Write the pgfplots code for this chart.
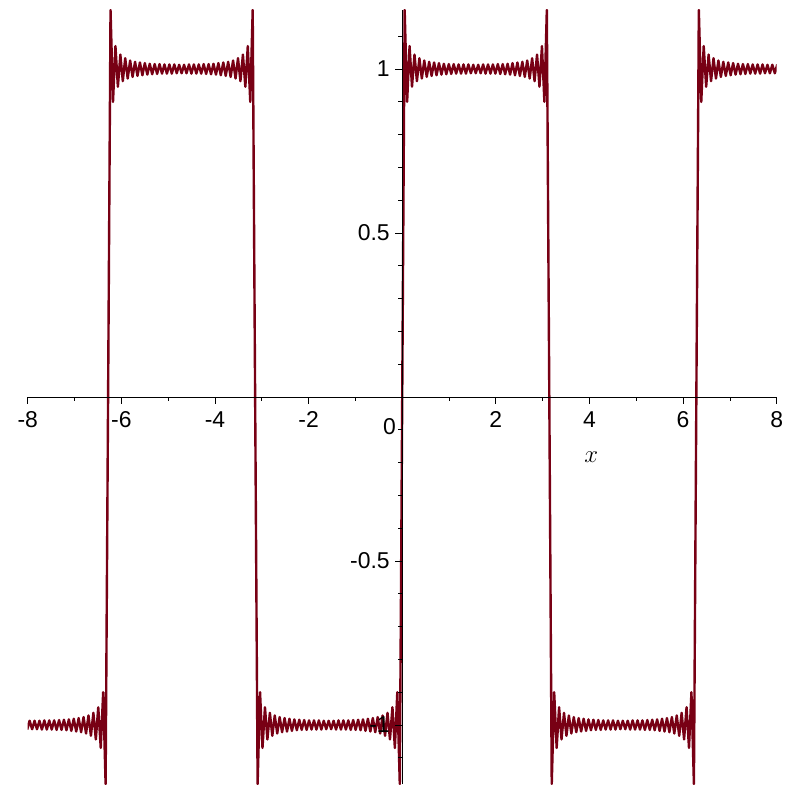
\documentclass[border=0pt]{standalone}
\usepackage{fontspec}
\setmainfont{Liberation Sans}
\usepackage{pgfplots}
\pgfplotsset{compat=1.18}
\definecolor{maplered}{RGB}{120,0,20}

\begin{document}
\begin{tikzpicture}
\begin{axis}[
    scale only axis,
    width=749bp, height=774bp,
    xmin=-8, xmax=8,
    ymin=-1.18, ymax=1.18,
    axis lines=middle,
    axis on top,
    axis line style={-, black, line width=0.8bp},
    tick align=outside,
    tick style={black, line width=0.8bp},
    major tick length=7bp,
    minor tick length=4bp,
    xtick={-8,-6,-4,-2,2,4,6,8},
    xticklabels={-8,-6,-4,-2,2,4,6,8},
    minor xtick={-7,-5,-3,-1,1,3,5,7},
    ytick={-1,-0.5,0.5,1},
    yticklabels={-1,-0.5,0.5,1},
    minor ytick={-1.1,-0.9,-0.8,-0.7,-0.6,-0.4,-0.3,-0.2,-0.1,0.1,0.2,0.3,0.4,0.6,0.7,0.8,0.9,1.1},
    tick label style={font=\fontsize{23}{23}\selectfont, text=black},
    xticklabel style={yshift=-4bp},
    yticklabel style={xshift=-2bp},
]
% partial Fourier sum of the square wave
\addplot[color=maplered, line width=2.4bp, line join=round] coordinates {
(-8.011,-1.014) (-7.959,-0.987) (-7.906,-1.013) (-7.854,-0.987) (-7.802,-1.013) (-7.749,-0.987) (-7.697,-1.014) (-7.645,-0.986) (-7.592,-1.014) (-7.540,-0.986) (-7.487,-1.014) (-7.435,-0.986) (-7.383,-1.015) (-7.330,-0.985) (-7.278,-1.015) (-7.226,-0.984) (-7.173,-1.016) (-7.121,-0.983) (-7.069,-1.018) (-7.016,-0.981) (-6.964,-1.020) (-6.912,-0.979) (-6.859,-1.022) (-6.807,-0.976) (-6.754,-1.026) (-6.702,-0.971) (-6.650,-1.033) (-6.597,-0.963) (-6.545,-1.044) (-6.493,-0.946) (-6.440,-1.070) (-6.388,-0.900) (-6.336,-1.18) (-6.283,0)
(-6.231,1.18) (-6.178,0.900) (-6.126,1.070) (-6.074,0.946) (-6.021,1.044) (-5.969,0.963) (-5.917,1.033) (-5.864,0.971) (-5.812,1.026) (-5.760,0.976) (-5.707,1.022) (-5.655,0.979) (-5.603,1.020) (-5.550,0.981) (-5.498,1.018) (-5.445,0.983) (-5.393,1.016) (-5.341,0.984) (-5.288,1.015) (-5.236,0.985) (-5.184,1.015) (-5.131,0.986) (-5.079,1.014) (-5.027,0.986) (-4.974,1.014) (-4.922,0.986) (-4.869,1.014) (-4.817,0.987) (-4.765,1.013) (-4.712,0.987) (-4.660,1.013) (-4.608,0.987) (-4.555,1.014) (-4.503,0.986) (-4.451,1.014) (-4.398,0.986) (-4.346,1.014) (-4.294,0.986) (-4.241,1.015) (-4.189,0.985) (-4.136,1.015) (-4.084,0.984) (-4.032,1.016) (-3.979,0.983) (-3.927,1.018) (-3.875,0.981) (-3.822,1.020) (-3.770,0.979) (-3.718,1.022) (-3.665,0.976) (-3.613,1.026) (-3.560,0.971) (-3.508,1.033) (-3.456,0.963) (-3.403,1.044) (-3.351,0.946) (-3.299,1.070) (-3.246,0.900) (-3.194,1.18) (-3.142,0)
(-3.089,-1.18) (-3.037,-0.900) (-2.985,-1.070) (-2.932,-0.946) (-2.880,-1.044) (-2.827,-0.963) (-2.775,-1.033) (-2.723,-0.971) (-2.670,-1.026) (-2.618,-0.976) (-2.566,-1.022) (-2.513,-0.979) (-2.461,-1.020) (-2.409,-0.981) (-2.356,-1.018) (-2.304,-0.983) (-2.251,-1.016) (-2.199,-0.984) (-2.147,-1.015) (-2.094,-0.985) (-2.042,-1.015) (-1.990,-0.986) (-1.937,-1.014) (-1.885,-0.986) (-1.833,-1.014) (-1.780,-0.986) (-1.728,-1.014) (-1.676,-0.987) (-1.623,-1.013) (-1.571,-0.987) (-1.518,-1.013) (-1.466,-0.987) (-1.414,-1.014) (-1.361,-0.986) (-1.309,-1.014) (-1.257,-0.986) (-1.204,-1.014) (-1.152,-0.986) (-1.100,-1.015) (-1.047,-0.985) (-0.995,-1.015) (-0.942,-0.984) (-0.890,-1.016) (-0.838,-0.983) (-0.785,-1.018) (-0.733,-0.981) (-0.681,-1.020) (-0.628,-0.979) (-0.576,-1.022) (-0.524,-0.976) (-0.471,-1.026) (-0.419,-0.971) (-0.367,-1.033) (-0.314,-0.963) (-0.262,-1.044) (-0.209,-0.946) (-0.157,-1.070) (-0.105,-0.900) (-0.052,-1.18) (0,0)
(0.052,1.18) (0.105,0.900) (0.157,1.070) (0.209,0.946) (0.262,1.044) (0.314,0.963) (0.367,1.033) (0.419,0.971) (0.471,1.026) (0.524,0.976) (0.576,1.022) (0.628,0.979) (0.681,1.020) (0.733,0.981) (0.785,1.018) (0.838,0.983) (0.890,1.016) (0.942,0.984) (0.995,1.015) (1.047,0.985) (1.100,1.015) (1.152,0.986) (1.204,1.014) (1.257,0.986) (1.309,1.014) (1.361,0.986) (1.414,1.014) (1.466,0.987) (1.518,1.013) (1.571,0.987) (1.623,1.013) (1.676,0.987) (1.728,1.014) (1.780,0.986) (1.833,1.014) (1.885,0.986) (1.937,1.014) (1.990,0.986) (2.042,1.015) (2.094,0.985) (2.147,1.015) (2.199,0.984) (2.251,1.016) (2.304,0.983) (2.356,1.018) (2.409,0.981) (2.461,1.020) (2.513,0.979) (2.566,1.022) (2.618,0.976) (2.670,1.026) (2.723,0.971) (2.775,1.033) (2.827,0.963) (2.880,1.044) (2.932,0.946) (2.985,1.070) (3.037,0.900) (3.089,1.18) (3.142,0)
(3.194,-1.18) (3.246,-0.900) (3.299,-1.070) (3.351,-0.946) (3.403,-1.044) (3.456,-0.963) (3.508,-1.033) (3.560,-0.971) (3.613,-1.026) (3.665,-0.976) (3.718,-1.022) (3.770,-0.979) (3.822,-1.020) (3.875,-0.981) (3.927,-1.018) (3.979,-0.983) (4.032,-1.016) (4.084,-0.984) (4.136,-1.015) (4.189,-0.985) (4.241,-1.015) (4.294,-0.986) (4.346,-1.014) (4.398,-0.986) (4.451,-1.014) (4.503,-0.986) (4.555,-1.014) (4.608,-0.987) (4.660,-1.013) (4.712,-0.987) (4.765,-1.013) (4.817,-0.987) (4.869,-1.014) (4.922,-0.986) (4.974,-1.014) (5.027,-0.986) (5.079,-1.014) (5.131,-0.986) (5.184,-1.015) (5.236,-0.985) (5.288,-1.015) (5.341,-0.984) (5.393,-1.016) (5.445,-0.983) (5.498,-1.018) (5.550,-0.981) (5.603,-1.020) (5.655,-0.979) (5.707,-1.022) (5.760,-0.976) (5.812,-1.026) (5.864,-0.971) (5.917,-1.033) (5.969,-0.963) (6.021,-1.044) (6.074,-0.946) (6.126,-1.070) (6.178,-0.900) (6.231,-1.18) (6.283,0)
(6.336,1.18) (6.388,0.900) (6.440,1.070) (6.493,0.946) (6.545,1.044) (6.597,0.963) (6.650,1.033) (6.702,0.971) (6.754,1.026) (6.807,0.976) (6.859,1.022) (6.912,0.979) (6.964,1.020) (7.016,0.981) (7.069,1.018) (7.121,0.983) (7.173,1.016) (7.226,0.984) (7.278,1.015) (7.330,0.985) (7.383,1.015) (7.435,0.986) (7.487,1.014) (7.540,0.986) (7.592,1.014) (7.645,0.986) (7.697,1.014) (7.749,0.987) (7.802,1.013) (7.854,0.987) (7.906,1.013) (7.959,0.987) (8.011,1.014)
};
\node[font=\fontsize{23}{23}\selectfont] at (axis cs:-0.27,-0.09) {0};
\node[font=\fontsize{24}{24}\selectfont] at (axis cs:4.04,-0.183) {$x$};
\coordinate (bl) at (axis cs:-8.592,-1.195);
\coordinate (tr) at (axis cs:8.476,1.2105);
\end{axis}
\path (bl) rectangle (tr);
\end{tikzpicture}
\end{document}
